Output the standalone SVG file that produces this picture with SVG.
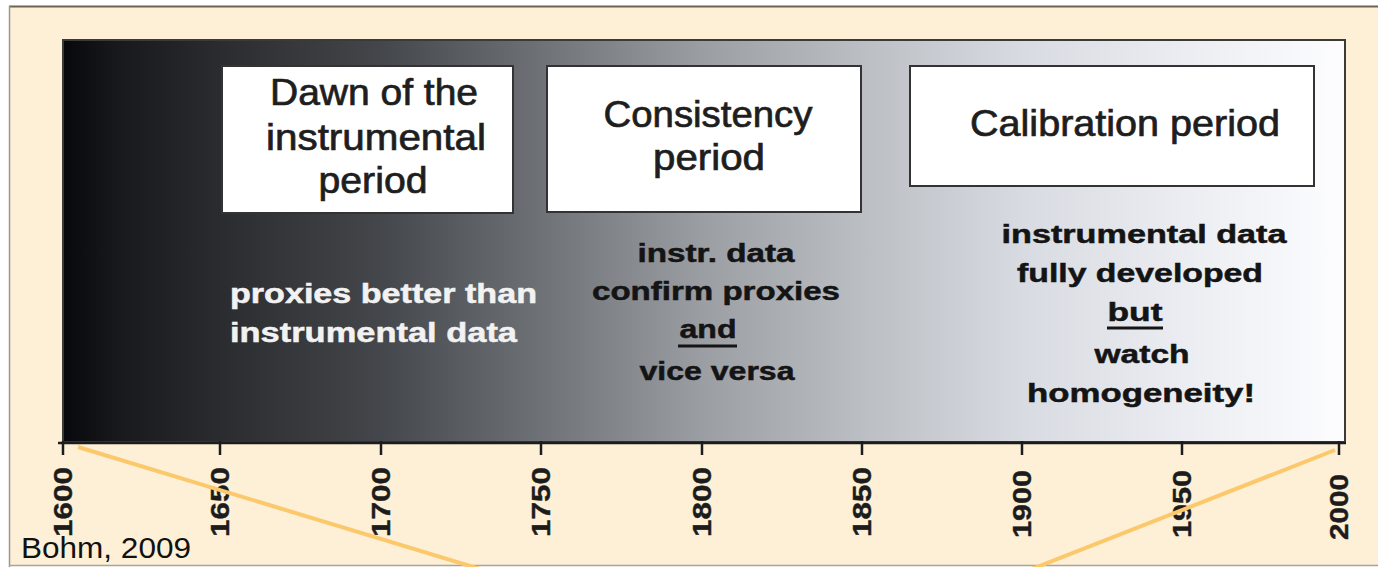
<svg xmlns="http://www.w3.org/2000/svg" width="1378" height="567" viewBox="0 0 1378 567">
<defs>
<linearGradient id="bg" x1="63" y1="0" x2="1345" y2="0" gradientUnits="userSpaceOnUse">
<stop offset="0" stop-color="#07080b"/>
<stop offset="0.04" stop-color="#17181b"/>
<stop offset="0.12" stop-color="#2a2b2e"/>
<stop offset="0.25" stop-color="#44474b"/>
<stop offset="0.37" stop-color="#6d7075"/>
<stop offset="0.5" stop-color="#9b9ea3"/>
<stop offset="0.62" stop-color="#babdc2"/>
<stop offset="0.75" stop-color="#d8dbe1"/>
<stop offset="0.87" stop-color="#eaecf1"/>
<stop offset="1" stop-color="#fdfdff"/>
</linearGradient>
<style>
.box{fill:#ffffff;stroke:#333333;stroke-width:2}
.title{font-family:"Liberation Sans",Arial,sans-serif;font-size:36px;fill:#1e1e1e;stroke:#1e1e1e;stroke-width:0.7;text-anchor:middle}
.note{font-family:"Liberation Sans",Arial,sans-serif;font-size:26px;font-weight:bold;fill:#141414;stroke:#141414;stroke-width:0.5;text-anchor:middle}
.white{font-family:"Liberation Sans",Arial,sans-serif;font-size:27px;font-weight:bold;fill:#f2f2f2;stroke:#f2f2f2;stroke-width:0.5}
.tick{font-family:"Liberation Sans",Arial,sans-serif;font-size:25px;font-weight:bold;fill:#1c1c1c;stroke:#1c1c1c;stroke-width:0.4;text-anchor:end}
.tk{stroke:#1c1c1c;stroke-width:2.5}
.ul{stroke:#141414;stroke-width:3}
.conn{stroke:#fcc86c;stroke-width:4;fill:none}
</style>
</defs>
<rect x="0" y="0" width="1378" height="567" fill="#ffffff"/>
<rect x="9" y="6" width="1369" height="560" fill="#fdf0d6"/>
<line x1="9" y1="6.5" x2="1378" y2="6.5" stroke="#6b6552" stroke-width="2"/>
<line x1="9.5" y1="6" x2="9.5" y2="567" stroke="#9a9690" stroke-width="1.5"/>
<line x1="9" y1="565.5" x2="1378" y2="565.5" stroke="#a8a49c" stroke-width="1.5"/>

<g id="chart">
<rect x="63" y="40" width="1282" height="402" fill="url(#bg)" stroke="#3a3a3a" stroke-width="2"/>
</g>

<g id="axis">
<line x1="58" y1="443" x2="1346" y2="443" stroke="#1c1c1c" stroke-width="2.5"/>
<line class="tk" x1="63" y1="441" x2="63" y2="455"/>
<line class="tk" x1="220" y1="441" x2="220" y2="455"/>
<line class="tk" x1="381" y1="441" x2="381" y2="455"/>
<line class="tk" x1="541" y1="441" x2="541" y2="455"/>
<line class="tk" x1="702" y1="441" x2="702" y2="455"/>
<line class="tk" x1="862" y1="441" x2="862" y2="455"/>
<line class="tk" x1="1022" y1="441" x2="1022" y2="455"/>
<line class="tk" x1="1182" y1="441" x2="1182" y2="455"/>
<line class="tk" x1="1339" y1="441" x2="1339" y2="455"/>
<text class="tick" transform="translate(72,467) rotate(-90)" textLength="70" lengthAdjust="spacingAndGlyphs">1600</text>
<text class="tick" transform="translate(229,467) rotate(-90)" textLength="70" lengthAdjust="spacingAndGlyphs">1650</text>
<text class="tick" transform="translate(390,467) rotate(-90)" textLength="70" lengthAdjust="spacingAndGlyphs">1700</text>
<text class="tick" transform="translate(550,467) rotate(-90)" textLength="70" lengthAdjust="spacingAndGlyphs">1750</text>
<text class="tick" transform="translate(711,467) rotate(-90)" textLength="70" lengthAdjust="spacingAndGlyphs">1800</text>
<text class="tick" transform="translate(871,467) rotate(-90)" textLength="70" lengthAdjust="spacingAndGlyphs">1850</text>
<text class="tick" transform="translate(1031,470) rotate(-90)" textLength="68" lengthAdjust="spacingAndGlyphs">1900</text>
<text class="tick" transform="translate(1191,470) rotate(-90)" textLength="68" lengthAdjust="spacingAndGlyphs">1950</text>
<text class="tick" transform="translate(1348,474) rotate(-90)" textLength="66" lengthAdjust="spacingAndGlyphs">2000</text>
</g>

<g id="box-dawn">
<rect class="box" x="222" y="66" width="291" height="147"/>
<text class="title" x="374" y="105" textLength="208" lengthAdjust="spacingAndGlyphs">Dawn of the</text>
<text class="title" x="376" y="150" textLength="220" lengthAdjust="spacingAndGlyphs">instrumental</text>
<text class="title" x="373" y="193" textLength="109" lengthAdjust="spacingAndGlyphs">period</text>
</g>

<g id="box-consistency">
<rect class="box" x="547" y="66" width="314" height="146"/>
<text class="title" x="708" y="127" textLength="209" lengthAdjust="spacingAndGlyphs">Consistency</text>
<text class="title" x="709" y="170" textLength="112" lengthAdjust="spacingAndGlyphs">period</text>
</g>

<g id="box-calibration">
<rect class="box" x="910" y="66" width="404" height="120"/>
<text class="title" x="1125" y="136" textLength="310" lengthAdjust="spacingAndGlyphs">Calibration period</text>
</g>

<g id="note-proxies">
<text class="white" x="230" y="303" textLength="307" lengthAdjust="spacingAndGlyphs">proxies better than</text>
<text class="white" x="230" y="342" textLength="287" lengthAdjust="spacingAndGlyphs">instrumental data</text>
</g>

<g id="note-consistency">
<text class="note" x="716" y="262" textLength="157" lengthAdjust="spacingAndGlyphs">instr. data</text>
<text class="note" x="716" y="300" textLength="248" lengthAdjust="spacingAndGlyphs">confirm proxies</text>
<text class="note" x="708" y="338" textLength="57" lengthAdjust="spacingAndGlyphs">and</text>
<line class="ul" x1="678" y1="346" x2="737" y2="346"/>
<text class="note" x="717" y="380" textLength="155" lengthAdjust="spacingAndGlyphs">vice versa</text>
</g>

<g id="note-calibration">
<text class="note" x="1144" y="243" textLength="285" lengthAdjust="spacingAndGlyphs">instrumental data</text>
<text class="note" x="1140" y="282" textLength="246" lengthAdjust="spacingAndGlyphs">fully developed</text>
<text class="note" x="1135" y="321" textLength="55" lengthAdjust="spacingAndGlyphs">but</text>
<line class="ul" x1="1107" y1="328" x2="1163" y2="328"/>
<text class="note" x="1142" y="363" textLength="95" lengthAdjust="spacingAndGlyphs">watch</text>
<text class="note" x="1141" y="402" textLength="228" lengthAdjust="spacingAndGlyphs">homogeneity!</text>
</g>

<g id="connectors">
<line class="conn" x1="78" y1="447" x2="480" y2="569"/>
<line class="conn" x1="1335" y1="450" x2="1032" y2="569"/>
</g>

<g id="credit">
<text x="21" y="558" font-family="Liberation Sans, Arial, sans-serif" font-size="29" fill="#111111" textLength="170" lengthAdjust="spacingAndGlyphs">Bohm, 2009</text>
</g>
</svg>
